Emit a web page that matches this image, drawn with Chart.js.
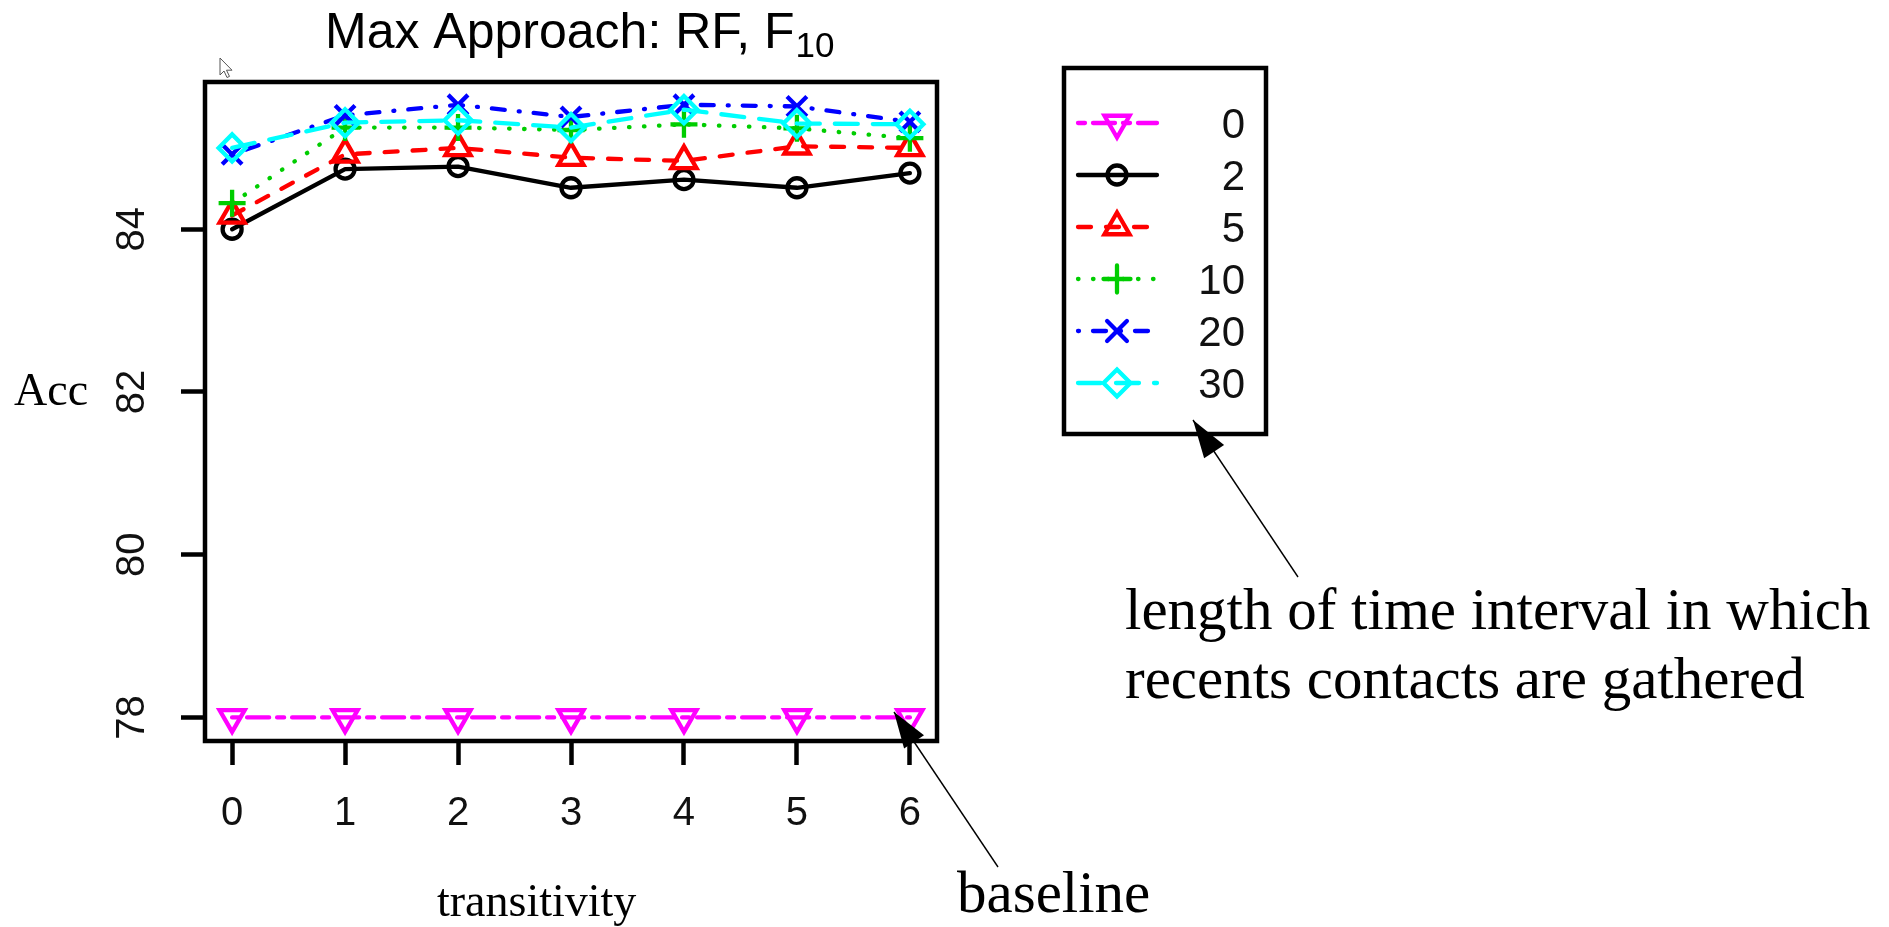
<!DOCTYPE html>
<html>
<head>
<meta charset="utf-8">
<script src="https://cdn.jsdelivr.net/npm/chart.js@4.4.1/dist/chart.umd.min.js"></script>
<style>
  html, body { margin: 0; padding: 0; background: #ffffff; }
  canvas { display: block; }
</style>
</head>
<body>
<canvas id="chart" width="1889" height="927"></canvas>
<script>
// ---- data ----
const transitivity = [0, 1, 2, 3, 4, 5, 6];
const intervalLengths = ['0', '2', '5', '10', '20', '30'];
const acc0  = [78.00, 78.00, 78.00, 78.00, 78.00, 78.00, 78.00];
const acc2  = [84.00, 84.74, 84.77, 84.51, 84.61, 84.51, 84.69];
const acc5  = [84.17, 84.92, 85.00, 84.88, 84.84, 85.02, 85.00];
const acc10 = [84.32, 85.25, 85.25, 85.22, 85.29, 85.24, 85.12];
const acc20 = [84.92, 85.40, 85.53, 85.38, 85.53, 85.51, 85.32];
const acc30 = [85.00, 85.31, 85.34, 85.25, 85.47, 85.30, 85.29];
const xTickValues = [0, 1, 2, 3, 4, 5, 6];
const yTickValues = [78, 80, 82, 84];

const seriesValues = [acc0, acc2, acc5, acc10, acc20, acc30];

// ---- styles (R-like palette, line types and plotting symbols) ----
const styles = [
  { color: '#FF00FF', dash: [7, 8, 22, 8],      point: 'triangle', rotation: 180, radius: 14.5, order: 0 },
  { color: '#000000', dash: [],                 point: 'circle',   rotation: 0,   radius: 9.5,  order: 5 },
  { color: '#FF0000', dash: [13, 15],           point: 'triangle', rotation: 0,   radius: 14.5, order: 4 },
  { color: '#00CD00', dash: [0.5, 14.5],        point: 'cross',    rotation: 0,   radius: 13.5, order: 3 },
  { color: '#0000FF', dash: [1, 14, 13, 14],    point: 'crossRot', rotation: 0,   radius: 14,   order: 2 },
  { color: '#00FFFF', dash: [23, 15],           point: 'rectRot',  rotation: 0,   radius: 13.5, order: 1 }
];
const LINE_W = 4.3;

const datasets = intervalLengths.map((name, i) => ({
  label: name,
  data: transitivity.map((x, j) => ({ x: x, y: seriesValues[i][j] })),
  borderColor: styles[i].color,
  borderWidth: LINE_W,
  borderDash: styles[i].dash,
  borderCapStyle: 'round',
  borderJoinStyle: 'round',
  pointStyle: styles[i].point,
  pointRotation: styles[i].rotation,
  pointRadius: styles[i].radius,
  pointBorderWidth: LINE_W,
  pointBorderColor: styles[i].color,
  pointBackgroundColor: 'rgba(0,0,0,0)',
  pointHoverRadius: styles[i].radius,
  fill: false,
  tension: 0,
  order: styles[i].order,
  clip: false
}));

// ---- plugins ----
const framePlugin = {
  id: 'frame',
  afterDatasetsDraw(chart) {
    const { ctx, chartArea: a } = chart;
    ctx.save();
    ctx.lineWidth = 4.5;
    ctx.strokeStyle = '#000';
    ctx.strokeRect(a.left, a.top, a.right - a.left, a.bottom - a.top);
    ctx.restore();
  }
};

const yLabelPlugin = {
  id: 'yLabels',
  afterDraw(chart) {
    const s = chart.scales.y;
    const ctx = chart.ctx;
    ctx.save();
    ctx.font = '40px "Liberation Sans", Arial, sans-serif';
    ctx.fillStyle = '#111';
    ctx.textAlign = 'center';
    ctx.textBaseline = 'middle';
    s.ticks.forEach(t => {
      const y = s.getPixelForValue(t.value);
      ctx.save();
      ctx.translate(133, y);
      ctx.rotate(-Math.PI / 2);
      ctx.fillText(String(t.value), 0, 0);
      ctx.restore();
    });
    ctx.restore();
  }
};

function drawArrow(ctx, x1, y1, x2, y2, len, half) {
  ctx.beginPath();
  ctx.moveTo(x1, y1);
  ctx.lineTo(x2, y2);
  ctx.stroke();
  const ang = Math.atan2(y2 - y1, x2 - x1);
  const bx = x2 - len * Math.cos(ang);
  const by = y2 - len * Math.sin(ang);
  ctx.beginPath();
  ctx.moveTo(x2, y2);
  ctx.lineTo(bx + half * Math.sin(ang), by - half * Math.cos(ang));
  ctx.lineTo(bx - half * Math.sin(ang), by + half * Math.cos(ang));
  ctx.closePath();
  ctx.fill();
}

const decorPlugin = {
  id: 'decor',
  afterDraw(chart) {
    const ctx = chart.ctx;
    ctx.save();
    ctx.fillStyle = '#000';
    ctx.textAlign = 'left';
    ctx.textBaseline = 'alphabetic';

    // title with subscript
    const main = 'Max Approach: RF, F';
    ctx.font = '50px "Liberation Sans", Arial, sans-serif';
    ctx.fillText(main, 325, 48);
    const w = ctx.measureText(main).width;
    ctx.font = '35px "Liberation Sans", Arial, sans-serif';
    ctx.fillText('10', 325 + w + 1, 57);

    // axis titles and notes
    ctx.font = '46px "Liberation Serif", "Times New Roman", serif';
    ctx.fillText('Acc', 14, 405);
    ctx.fillText('transitivity', 437, 916);
    ctx.font = '59px "Liberation Serif", "Times New Roman", serif';
    ctx.fillText('baseline', 957, 912);
    ctx.fillText('length of time interval in which', 1125, 629);
    ctx.fillText('recents contacts are gathered', 1125, 698);

    // arrows
    ctx.strokeStyle = '#000';
    ctx.lineWidth = 1.4;
    drawArrow(ctx, 1298, 577, 1193, 420, 38, 12);
    drawArrow(ctx, 998, 867, 894, 712, 36, 12);

    // pointer cursor
    const cx = 220, cy = 58;
    const pts = [[0, 0], [0, 17], [4, 13], [7, 19.5], [9.5, 18.4], [6.5, 12.2], [12, 12.2]];
    ctx.beginPath();
    pts.forEach((p, i) => i ? ctx.lineTo(cx + p[0], cy + p[1]) : ctx.moveTo(cx + p[0], cy + p[1]));
    ctx.closePath();
    ctx.fillStyle = '#fff';
    ctx.fill();
    ctx.lineWidth = 1;
    ctx.strokeStyle = '#555';
    ctx.stroke();
    ctx.restore();
  }
};

const legendPlugin = {
  id: 'boxLegend',
  afterDraw(chart) {
    const ctx = chart.ctx;
    const box = { l: 1064, t: 68, r: 1266, b: 434 };
    ctx.save();
    ctx.lineWidth = 4.5;
    ctx.strokeStyle = '#000';
    ctx.strokeRect(box.l, box.t, box.r - box.l, box.b - box.t);
    chart.data.datasets.forEach((ds, i) => {
      const y = 123 + i * 52;
      ctx.save();
      ctx.strokeStyle = ds.borderColor;
      ctx.lineWidth = ds.borderWidth;
      ctx.lineCap = 'round';
      ctx.setLineDash(ds.borderDash);
      ctx.beginPath();
      ctx.moveTo(1078, y);
      ctx.lineTo(1157, y);
      ctx.stroke();
      ctx.setLineDash([]);
      ctx.fillStyle = 'rgba(0,0,0,0)';
      Chart.helpers.drawPoint(ctx, {
        pointStyle: ds.pointStyle,
        rotation: ds.pointRotation,
        radius: ds.pointRadius,
        borderWidth: ds.pointBorderWidth
      }, 1117, y);
      ctx.restore();
      ctx.font = '42px "Liberation Sans", Arial, sans-serif';
      ctx.fillStyle = '#111';
      ctx.textAlign = 'right';
      ctx.textBaseline = 'alphabetic';
      ctx.fillText(ds.label, 1245, y + 15);
    });
    ctx.restore();
  }
};

Chart.defaults.font.family = '"Liberation Sans", Arial, sans-serif';

new Chart(document.getElementById('chart'), {
  type: 'line',
  data: { datasets: datasets },
  options: {
    responsive: false,
    animation: false,
    devicePixelRatio: 1,
    layout: { padding: { left: 145, top: 82, right: 952, bottom: 86 } },
    plugins: {
      legend: { display: false },
      title: { display: false },
      tooltip: { enabled: false }
    },
    scales: {
      x: {
        type: 'linear',
        min: -0.24,
        max: 6.24,
        afterBuildTicks: s => { s.ticks = xTickValues.map(v => ({ value: v })); },
        afterFit: s => { s.height = 100; },
        ticks: {
          font: { size: 40, family: '"Liberation Sans", Arial, sans-serif' },
          color: '#111',
          padding: 25,
          autoSkip: false,
          maxRotation: 0,
          minRotation: 0
        },
        grid: { display: true, drawOnChartArea: false, drawTicks: true, tickLength: 24, tickWidth: 4.5, tickColor: '#000' },
        border: { display: false }
      },
      y: {
        type: 'linear',
        min: 77.71,
        max: 85.81,
        afterBuildTicks: s => { s.ticks = yTickValues.map(v => ({ value: v })); },
        afterFit: s => { s.width = 60; },
        ticks: { display: false },
        grid: { display: true, drawOnChartArea: false, drawTicks: true, tickLength: 24, tickWidth: 4.5, tickColor: '#000' },
        border: { display: false }
      }
    }
  },
  plugins: [framePlugin, yLabelPlugin, legendPlugin, decorPlugin]
});
</script>
</body>
</html>
